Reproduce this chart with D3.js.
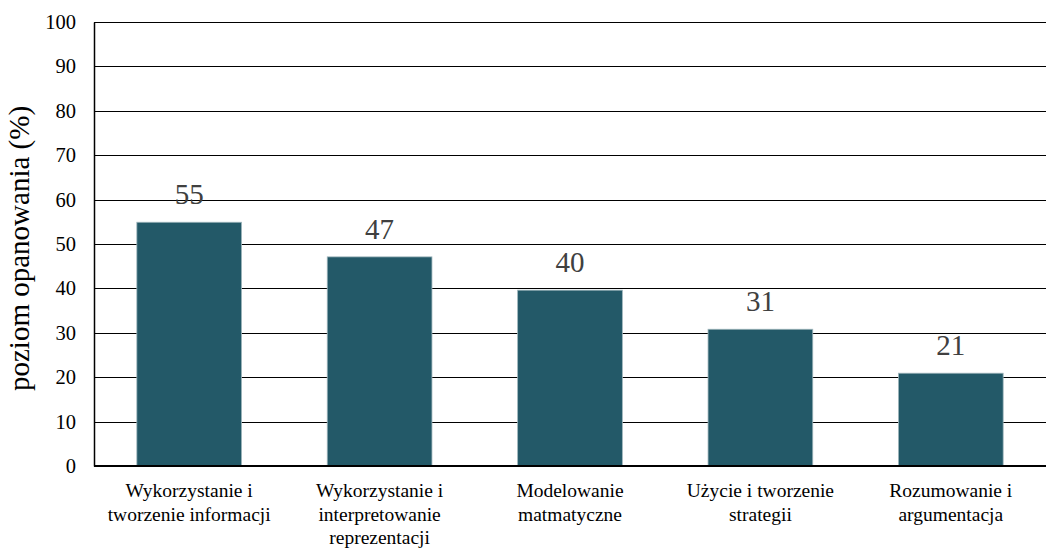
<!DOCTYPE html>
<html>
<head>
<meta charset="utf-8">
<script src="https://cdn.jsdelivr.net/npm/d3@7"></script>
<style>
  body { margin: 0; background: #fff; }
</style>
</head>
<body>
<svg id="chart" width="1047" height="550"></svg>
<script>
// data
const categories = [
  ["Wykorzystanie i", "tworzenie informacji"],
  ["Wykorzystanie i", "interpretowanie", "reprezentacji"],
  ["Modelowanie", "matmatyczne"],
  ["Użycie i tworzenie", "strategii"],
  ["Rozumowanie i", "argumentacja"]
]
const values = [54.9, 47.1, 39.6, 30.8, 20.9]
const labels = ["55", "47", "40", "31", "21"]
const yTicks = [0, 10, 20, 30, 40, 50, 60, 70, 80, 90, 100]

const FONT = "'Liberation Serif'"
const svg = d3.select("#chart")
const plotL = 94, plotR = 1046, plotT = 22, plotB = 466

const x = d3.scaleBand()
  .domain(d3.range(categories.length))
  .range([plotL, plotR])
  .paddingInner(0.45)
  .paddingOuter(0.225)
const y = d3.scaleLinear().domain([0, 100]).range([plotB, plotT])

/* gridlines */
svg.append("g")
  .selectAll("line")
  .data(yTicks.filter(d => d > 0))
  .enter().append("line")
    .attr("x1", plotL).attr("x2", plotR)
    .attr("y1", d => Math.round(y(d)) + 0.5)
    .attr("y2", d => Math.round(y(d)) + 0.5)
    .attr("stroke", "#000")
    .attr("stroke-width", 1.2)

/* bars */
svg.append("g")
  .selectAll("rect")
  .data(values)
  .enter().append("rect")
    .attr("x", (d, i) => x(i))
    .attr("width", x.bandwidth())
    .attr("y", d => y(d))
    .attr("height", d => plotB - y(d))
    .attr("fill", "#235968")
    .attr("stroke", "#9fb6bc")
    .attr("stroke-width", 0.8)

// value labels
svg.append("g")
  .selectAll("text")
  .data(values)
  .enter().append("text")
    .attr("x", (d, i) => x(i) + x.bandwidth() / 2)
    .attr("y", d => y(d) - 18)
    .attr("text-anchor", "middle")
    .style("font-family", FONT)
    .attr("font-size", 29)
    .attr("fill", "#404040")
    .text((d, i) => labels[i])

/* axes */
const yAxis = svg.append("g")
  .attr("transform", `translate(${plotL},0)`)
  .call(d3.axisLeft(y).tickValues(yTicks).tickSize(0).tickPadding(18))
yAxis.attr("font-family", null).attr("font-size", null)
yAxis.select(".domain").attr("stroke", "#000").attr("stroke-width", 1.5)
yAxis.selectAll("text")
  .style("font-family", FONT)
  .attr("font-size", 20.5)
  .attr("fill", "#000")

svg.append("line")
  .attr("x1", plotL).attr("x2", plotR)
  .attr("y1", plotB).attr("y2", plotB)
  .attr("stroke", "#000")
  .attr("stroke-width", 2)

// category labels
const cat = svg.append("g")
  .selectAll("text")
  .data(categories)
  .enter().append("text")
    .attr("x", (d, i) => x(i) + x.bandwidth() / 2)
    .attr("y", 497)
    .attr("text-anchor", "middle")
    .style("font-family", FONT)
    .attr("font-size", 19.5)
    .attr("fill", "#000")
cat.selectAll("tspan")
  .data(d => d)
  .enter().append("tspan")
    .attr("x", function(){ return this.parentNode.getAttribute("x") })
    .attr("dy", (d, i) => i ? 23.5 : 0)
    .text(d => d)

// y title
svg.append("text")
  .attr("transform", `translate(29,248.5) rotate(-90)`)
  .attr("text-anchor", "middle")
  .style("font-family", FONT)
  .attr("font-size", 29)
  .attr("fill", "#000")
  .text("poziom opanowania (%)")
</script>
</body>
</html>
